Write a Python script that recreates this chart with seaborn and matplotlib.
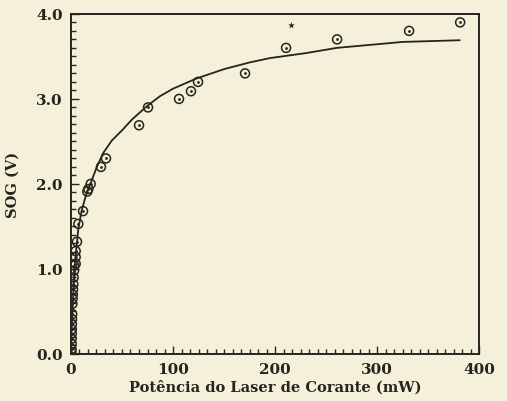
import numpy as np
import pandas as pd
import seaborn as sns
import matplotlib.pyplot as plt
from matplotlib.ticker import MultipleLocator

# pontos medidos (potência em mW, sinal optogalvânico em V)
pot_pts = [0.5, 0.6, 0.7, 0.7, 0.8, 0.8, 0.9, 1.0, 1.2, 1.4, 1.6, 1.8, 2.0,
           2.3, 2.6, 3.0, 3.2, 4.6, 4.6, 4.6, 5.9, 7.2, 11.8, 16.0, 17.0,
           19.3, 29.4, 34.3, 66.7, 75.5, 105.9, 117.6, 124.5, 170.6, 210.8,
           260.8, 331.4, 381.4]
sog_pts = [0.02, 0.06, 0.12, 0.18, 0.24, 0.29, 0.35, 0.41, 0.47, 0.59, 0.65,
           0.70, 0.76, 0.82, 0.90, 0.98, 1.04, 1.06, 1.14, 1.21, 1.32, 1.53,
           1.68, 1.91, 1.94, 2.00, 2.20, 2.30, 2.69, 2.90, 3.00, 3.09, 3.20,
           3.30, 3.60, 3.70, 3.80, 3.90]

# curva ajustada
pot_fit = [0.0, 0.7, 2.0, 3.9, 7.2, 10.5, 16.0, 20.3, 25.0, 31.4, 40.0,
           50.0, 60.0, 75.0, 87.0, 100.0, 123.0, 150.0, 175.5, 195.0, 231.0,
           260.5, 325.0, 381.0]
sog_fit = [0.0, 0.30, 0.65, 1.08, 1.47, 1.69, 1.92, 2.04, 2.19, 2.36, 2.51,
           2.63, 2.76, 2.92, 3.03, 3.12, 3.24, 3.35, 3.43, 3.48, 3.54,
           3.60, 3.67, 3.69]

# marca isolada (*)
pot_star = [215.7]
sog_star = [3.87]

pts = pd.DataFrame({"pot": pot_pts, "sog": sog_pts})
fit = pd.DataFrame({"pot": pot_fit, "sog": sog_fit})
star = pd.DataFrame({"pot": pot_star, "sog": sog_star})

sns.set_style("ticks")
plt.rcParams["font.family"] = ["DejaVu Serif"]
ink = "#26241c"
paper = "#f4f0da"

fig = plt.figure(figsize=(5.07, 4.02), dpi=100, facecolor=paper)
ax = fig.add_axes([0.140, 0.117, 0.805, 0.846])
ax.set_facecolor(paper)

sns.lineplot(data=fit, x="pot", y="sog", color=ink, linewidth=1.3, ax=ax,
             sort=False)
sns.scatterplot(data=pts, x="pot", y="sog", marker="o", s=42,
                facecolor="none", edgecolor=ink, linewidth=1.1, ax=ax)
sns.scatterplot(data=pts, x="pot", y="sog", marker="o", s=4,
                color=ink, edgecolor=ink, linewidth=0, ax=ax)
sns.scatterplot(data=star, x="pot", y="sog", marker="*", s=25,
                color=ink, edgecolor=ink, linewidth=0, ax=ax)

ax.set_xlim(0, 400)
ax.set_ylim(0, 4.0)
ax.xaxis.set_major_locator(MultipleLocator(100))
ax.xaxis.set_minor_locator(MultipleLocator(100 / 12))
ax.yaxis.set_major_locator(MultipleLocator(1.0))
ax.yaxis.set_minor_locator(MultipleLocator(0.1))
ax.yaxis.set_major_formatter(plt.FormatStrFormatter("%.1f"))

ax.tick_params(which="both", direction="in", colors=ink, top=False,
               right=False, width=1.0)
ax.tick_params(which="major", length=6, labelsize=11, pad=6)
ax.tick_params(which="minor", length=3.5)
for lab in ax.get_xticklabels() + ax.get_yticklabels():
    lab.set_fontweight("bold")

for side in ["left", "bottom", "top", "right"]:
    ax.spines[side].set_visible(True)
    ax.spines[side].set_color(ink)
    ax.spines[side].set_linewidth(1.4)

ax.set_xlabel("Potência do Laser de Corante (mW)", fontsize=10.5,
              fontweight="bold", color=ink, labelpad=2)
ax.set_ylabel("SOG (V)", fontsize=10.5, fontweight="bold", color=ink,
              labelpad=12)

fig.savefig("out.png", dpi=100, facecolor=paper)
